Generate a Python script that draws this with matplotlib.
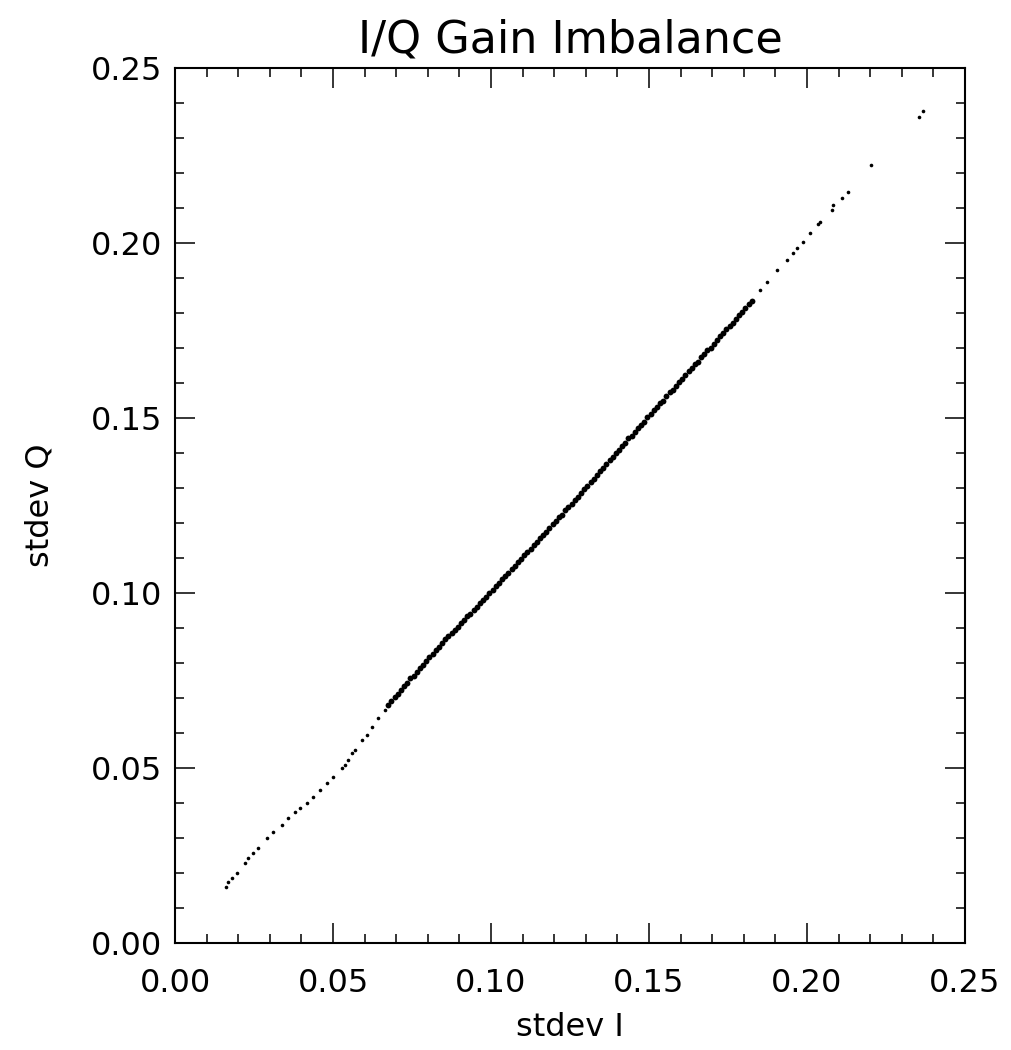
import numpy as np
import matplotlib
matplotlib.use("Agg")
import matplotlib.pyplot as plt
from matplotlib.ticker import MultipleLocator, FormatStrFormatter

# lower, sparse part of the cloud
low_i = [0.0161, 0.0168, 0.0180, 0.0196, 0.0222, 0.0231, 0.0247, 0.0263, 0.0291, 0.0310,
         0.0339, 0.0358, 0.0380, 0.0396, 0.0418, 0.0437, 0.0459, 0.0481, 0.0500, 0.0528,
         0.0538, 0.0547, 0.0560, 0.0570, 0.0592, 0.0608, 0.0623, 0.0642, 0.0665]
low_q = [0.0160, 0.0174, 0.0186, 0.0200, 0.0229, 0.0243, 0.0257, 0.0271, 0.0300, 0.0317,
         0.0337, 0.0357, 0.0374, 0.0386, 0.0400, 0.0417, 0.0437, 0.0457, 0.0474, 0.0500,
         0.0509, 0.0523, 0.0543, 0.0551, 0.0580, 0.0594, 0.0617, 0.0643, 0.0666]

# dense middle part
mid_i = [0.0675, 0.0685, 0.0695, 0.0705, 0.0715, 0.0725, 0.0735, 0.0745, 0.0755, 0.0765,
         0.0775, 0.0785, 0.0795, 0.0805, 0.0815, 0.0825, 0.0835, 0.0845, 0.0855, 0.0865,
         0.0875, 0.0885, 0.0895, 0.0905, 0.0915, 0.0925, 0.0935, 0.0945, 0.0955, 0.0965,
         0.0975, 0.0985, 0.0995, 0.1005, 0.1015, 0.1025, 0.1035, 0.1045, 0.1055, 0.1065,
         0.1075, 0.1085, 0.1095, 0.1105, 0.1115, 0.1125, 0.1135, 0.1145, 0.1155, 0.1165,
         0.1175, 0.1185, 0.1195, 0.1205, 0.1215, 0.1225, 0.1235, 0.1245, 0.1255, 0.1265,
         0.1275, 0.1285, 0.1295, 0.1305, 0.1315, 0.1325, 0.1335, 0.1345, 0.1355, 0.1365,
         0.1375, 0.1385, 0.1395, 0.1405, 0.1415, 0.1425, 0.1435, 0.1445, 0.1455, 0.1465,
         0.1475, 0.1485, 0.1495, 0.1505, 0.1515, 0.1525, 0.1535, 0.1545, 0.1555, 0.1565,
         0.1575, 0.1585, 0.1595, 0.1605, 0.1615, 0.1625, 0.1635, 0.1645, 0.1655, 0.1665,
         0.1675, 0.1685, 0.1695, 0.1705, 0.1715, 0.1725, 0.1735, 0.1745, 0.1755, 0.1765,
         0.1775, 0.1785, 0.1795, 0.1805, 0.1815, 0.1825]
mid_q = [0.0679, 0.0691, 0.0703, 0.0712, 0.0724, 0.0735, 0.0743, 0.0756, 0.0764, 0.0775,
         0.0787, 0.0795, 0.0806, 0.0818, 0.0826, 0.0837, 0.0845, 0.0857, 0.0868, 0.0876,
         0.0885, 0.0894, 0.0903, 0.0914, 0.0922, 0.0933, 0.0941, 0.0952, 0.0960, 0.0971,
         0.0980, 0.0989, 0.1000, 0.1008, 0.1019, 0.1028, 0.1040, 0.1048, 0.1057, 0.1069,
         0.1077, 0.1088, 0.1096, 0.1108, 0.1117, 0.1126, 0.1137, 0.1145, 0.1157, 0.1166,
         0.1175, 0.1187, 0.1196, 0.1205, 0.1216, 0.1224, 0.1236, 0.1245, 0.1254, 0.1266,
         0.1275, 0.1286, 0.1297, 0.1306, 0.1318, 0.1327, 0.1338, 0.1349, 0.1358, 0.1370,
         0.1379, 0.1390, 0.1401, 0.1409, 0.1421, 0.1430, 0.1442, 0.1450, 0.1461, 0.1472,
         0.1481, 0.1490, 0.1502, 0.1511, 0.1523, 0.1531, 0.1542, 0.1550, 0.1562, 0.1573,
         0.1581, 0.1592, 0.1603, 0.1611, 0.1622, 0.1634, 0.1642, 0.1653, 0.1661, 0.1673,
         0.1682, 0.1693, 0.1701, 0.1712, 0.1724, 0.1733, 0.1742, 0.1753, 0.1764, 0.1772,
         0.1783, 0.1794, 0.1802, 0.1813, 0.1825, 0.1834]

# upper, sparse part
high_i = [0.1851, 0.1873, 0.1905, 0.1937, 0.1956, 0.1968, 0.1987, 0.2009, 0.2035, 0.2041,
          0.2079, 0.2082, 0.2111, 0.2130, 0.2203, 0.2354, 0.2367]
high_q = [0.1866, 0.1889, 0.1923, 0.1951, 0.1971, 0.1986, 0.2003, 0.2029, 0.2054, 0.2060,
          0.2094, 0.2109, 0.2129, 0.2146, 0.2223, 0.2360, 0.2377]

plt.rcParams['font.family'] = ['DejaVu Sans']

fig = plt.figure(figsize=(10.11, 10.5), dpi=100)
ax = fig.add_axes([0.1731, 0.1019, 0.7814, 0.8333])

# sparse ends as small dots, dense middle run packed tight
ax.plot(low_i, low_q, 'o', color='black', markersize=2.6, markeredgewidth=0)
ax.plot(high_i, high_q, 'o', color='black', markersize=2.6, markeredgewidth=0)
ax.plot(mid_i, mid_q, 'o', color='black', markersize=4.2, markeredgewidth=0)

ax.set_xlim(0, 0.25)
ax.set_ylim(0, 0.25)
ax.xaxis.set_major_locator(MultipleLocator(0.05))
ax.yaxis.set_major_locator(MultipleLocator(0.05))
ax.xaxis.set_minor_locator(MultipleLocator(0.01))
ax.yaxis.set_minor_locator(MultipleLocator(0.01))
ax.xaxis.set_major_formatter(FormatStrFormatter('%.2f'))
ax.yaxis.set_major_formatter(FormatStrFormatter('%.2f'))

ax.tick_params(which='both', direction='in', top=True, right=True, width=1.1, colors='black')
ax.tick_params(which='major', length=14.4, labelsize=23)
ax.tick_params(axis='x', which='major', pad=18)
ax.tick_params(axis='y', which='major', pad=9)
ax.tick_params(which='minor', length=6.5)
for s in ax.spines.values():
    s.set_linewidth(1.5)

ax.set_title("I/Q Gain Imbalance", fontsize=32, pad=11)
ax.set_xlabel("stdev I", fontsize=23, labelpad=9)
ax.set_ylabel("stdev Q", fontsize=23, labelpad=26)

fig.savefig("out.png", dpi=100)
